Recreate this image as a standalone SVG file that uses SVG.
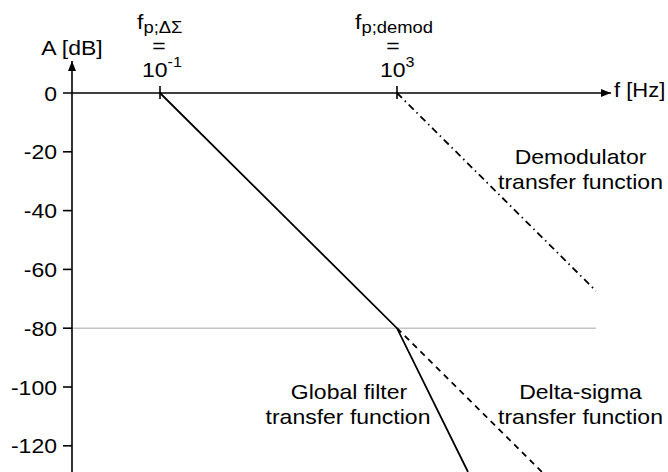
<svg xmlns="http://www.w3.org/2000/svg" width="668" height="472" viewBox="0 0 668 472">
<style>
text{font-family:"Liberation Sans",Arial,sans-serif;font-size:20px;fill:#000}
.m{text-anchor:middle}
.e{text-anchor:end}
.ax{stroke:#000;stroke-width:1.6;fill:none}
.cv{stroke:#000;stroke-width:1.8;fill:none}
.dash{stroke:#000;stroke-width:1.8;fill:none;stroke-dasharray:6 5}
.dd{stroke:#000;stroke-width:1.8;fill:none;stroke-dasharray:7 4 1.5 4}
.grid{stroke:#c4c4c4;stroke-width:1.5;fill:none}
</style>
<defs>
<marker id="arr" viewBox="0 0 10 8" refX="10" refY="4" markerWidth="10" markerHeight="8" orient="auto" markerUnits="userSpaceOnUse">
<path d="M0,0 L10,4 L0,8 z" fill="#000"/>
</marker>
</defs>
<rect width="668" height="472" fill="#fff"/>
<g id="grid">
<line class="grid" x1="72" y1="328.2" x2="596" y2="328.2"/>
</g>
<g id="axes">
<line class="ax" x1="72" y1="472" x2="72" y2="61" marker-end="url(#arr)"/>
<line class="ax" x1="63" y1="93" x2="611" y2="93" marker-end="url(#arr)"/>
<line class="ax" x1="63" y1="151.8" x2="72" y2="151.8"/>
<line class="ax" x1="63" y1="210.6" x2="72" y2="210.6"/>
<line class="ax" x1="63" y1="269.4" x2="72" y2="269.4"/>
<line class="ax" x1="63" y1="328.2" x2="72" y2="328.2"/>
<line class="ax" x1="63" y1="387" x2="72" y2="387"/>
<line class="ax" x1="63" y1="445.8" x2="72" y2="445.8"/>
<line class="ax" x1="160" y1="86" x2="160" y2="99"/>
<line class="ax" x1="397" y1="86" x2="397" y2="99"/>
</g>
<g id="tick-labels">
<text class="e" transform="translate(57,100.5) scale(1.15,1)">0</text>
<text class="e" transform="translate(57,159.3) scale(1.15,1)">-20</text>
<text class="e" transform="translate(57,218.1) scale(1.15,1)">-40</text>
<text class="e" transform="translate(57,276.9) scale(1.15,1)">-60</text>
<text class="e" transform="translate(57,335.7) scale(1.15,1)">-80</text>
<text class="e" transform="translate(57,394.5) scale(1.15,1)">-100</text>
<text class="e" transform="translate(57,453.3) scale(1.15,1)">-120</text>
</g>
<g id="axis-labels">
<text class="m" transform="translate(72,55) scale(1.15,1)">A [dB]</text>
<text transform="translate(614,97) scale(1.1,1)">f [Hz]</text>
</g>
<g id="freq-deltasigma">
<text transform="translate(137,29) scale(1.15,1)">f<tspan font-size="16" dy="4">p;ΔΣ</tspan></text>
<text class="m" transform="translate(159,53) scale(1.15,1)">=</text>
<text transform="translate(142,77) scale(1.15,1)">10<tspan font-size="14" dy="-10">-1</tspan></text>
</g>
<g id="freq-demod">
<text transform="translate(355,29) scale(1.15,1)">f<tspan font-size="16" dy="4">p;demod</tspan></text>
<text class="m" transform="translate(393,53) scale(1.15,1)">=</text>
<text transform="translate(380,77) scale(1.15,1)">10<tspan font-size="14" dy="-10">3</tspan></text>
</g>
<g id="connectors">
<polyline id="global-filter" class="cv" points="160,93 397,328.2 468,472"/>
<line id="delta-sigma" class="dash" x1="397" y1="328.2" x2="542" y2="472"/>
<line id="demodulator" class="dd" x1="397" y1="93" x2="596" y2="291"/>
</g>
<g id="label-demodulator">
<text class="m" transform="translate(580.5,164) scale(1.15,1)">Demodulator</text>
<text class="m" transform="translate(580.5,189) scale(1.15,1)">transfer function</text>
</g>
<g id="label-global">
<text class="m" transform="translate(349,399) scale(1.15,1)">Global filter</text>
<text class="m" transform="translate(348,424) scale(1.15,1)">transfer function</text>
</g>
<g id="label-deltasigma">
<text class="m" transform="translate(580.5,399) scale(1.15,1)">Delta-sigma</text>
<text class="m" transform="translate(580.5,424) scale(1.15,1)">transfer function</text>
</g>
</svg>
